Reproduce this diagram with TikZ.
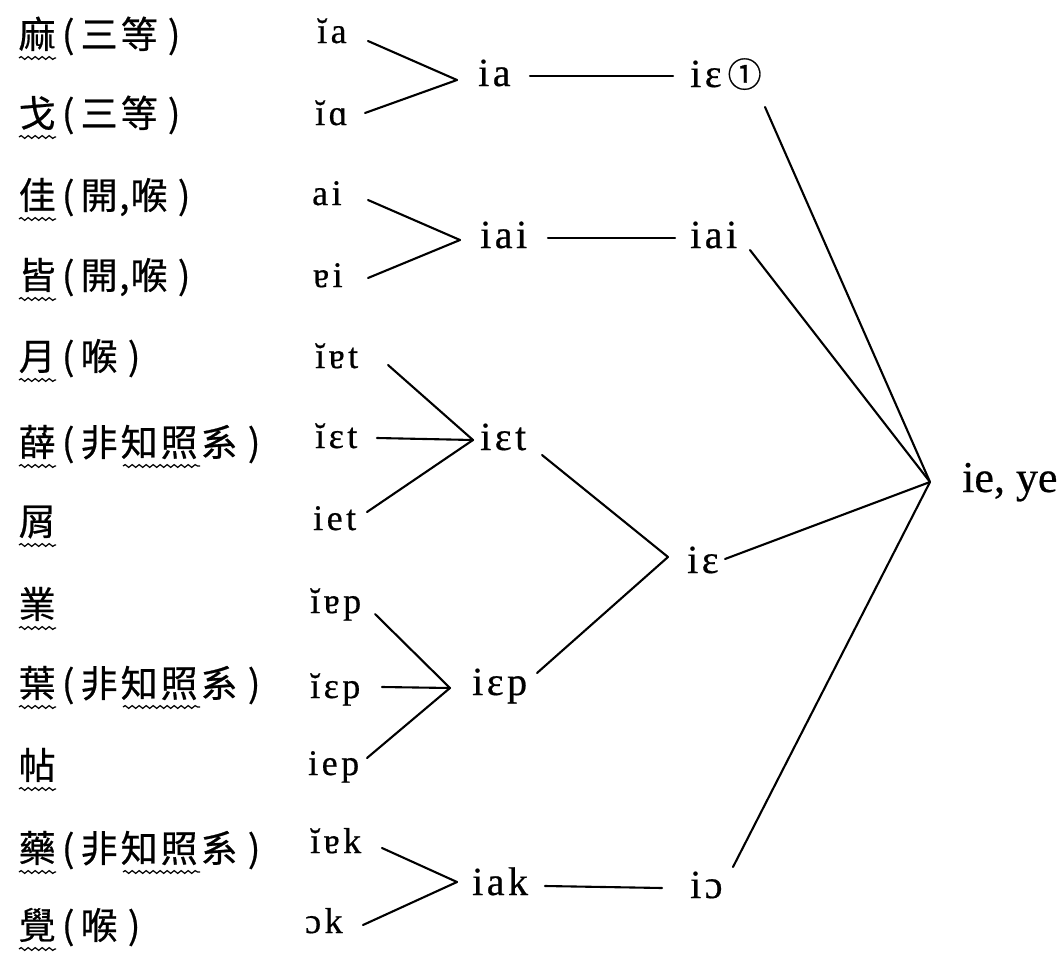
\documentclass[tikz,border=0pt]{standalone}
\usepackage{fontspec}
\setmainfont{Liberation Serif}
\newfontfamily\cjk[FakeBold=0.6]{Noto Sans CJK TC}
\newfontfamily\ipaf[FakeBold=0.5]{Liberation Serif}
\usetikzlibrary{calc,decorations.pathmorphing}
\newcommand\cc[1]{\makebox[40pt][c]{#1}}
\newcommand\lpar{\makebox[22pt][c]{(}}
\newcommand\rpar{\makebox[30pt][c]{)}}
\newcommand\cmm{\makebox[10pt][l]{,}}
\newcommand\ks{\kern3.5pt}
\tikzset{
 zh/.style={anchor=base west, inner sep=0pt, font=\cjk\fontsize{37}{40}\selectfont},
 ipa/.style={anchor=base west, inner sep=0pt, font=\ipaf\fontsize{36}{40}\selectfont},
 mid/.style={anchor=base west, inner sep=0pt, font=\ipaf\fontsize{40}{44}\selectfont},
 fin/.style={anchor=base west, inner sep=0pt, font=\ipaf\fontsize{44}{50}\selectfont},
 link/.style={line width=2.1pt, line cap=round},
 wavy/.style={line width=1.2pt, decorate, decoration={snake, segment length=7pt, amplitude=1.4pt}},
}
\begin{document}
\begin{tikzpicture}[x=1pt,y=-1pt]
\useasboundingbox[fill=white] (0,0) rectangle (1061,953);
% Chinese labels
\node[zh] (z1) at (17,48) {\cc{麻}\lpar\cc{三}\cc{等}\rpar};
\node[zh] (z2) at (17,127) {\cc{戈}\lpar\cc{三}\cc{等}\rpar};
\node[zh] (z3) at (17,209) {\cc{佳}\lpar\cc{開}\cmm\cc{喉}\rpar};
\node[zh] (z4) at (17,289) {\cc{皆}\lpar\cc{開}\cmm\cc{喉}\rpar};
\node[zh] (z5) at (17,370) {\cc{月}\lpar\cc{喉}\rpar};
\node[zh] (z6) at (17,456) {\cc{薛}\lpar\cc{非}\cc{知}\cc{照}\cc{系}\rpar};
\node[zh] (z7) at (17,535) {\cc{屑}};
\node[zh] (z8) at (17,618) {\cc{業}};
\node[zh] (z9) at (17,697) {\cc{葉}\lpar\cc{非}\cc{知}\cc{照}\cc{系}\rpar};
\node[zh] (z10) at (17,779) {\cc{帖}};
\node[zh] (z11) at (17,862) {\cc{藥}\lpar\cc{非}\cc{知}\cc{照}\cc{系}\rpar};
\node[zh] (z12) at (17,939) {\cc{覺}\lpar\cc{喉}\rpar};
% wavy underlines
\foreach \b in {48,127,209,289,370,456,535,618,697,779,862,939}
  \draw[wavy] (19,\b+10) -- (56,\b+10);
\foreach \b in {456,697,862}
  \draw[wavy] (123,\b+10) -- (200,\b+10);
% left IPA
\node[ipa] (i1) at (317,43) {ĭ\ks a};
\node[ipa] (i2) at (315,125) {ĭ\ks ɑ};
\node[ipa] (i3) at (312,205) {a\ks i};
\node[ipa] (i4) at (313,287) {ɐ\ks i};
\node[ipa] (i5) at (315,368) {ĭ\ks ɐ\ks t};
\node[ipa] (i6) at (315,448) {ĭ\ks ɛ\ks t};
\node[ipa] (i7) at (313,530) {i\ks e\ks t};
\node[ipa] (i8) at (310,613) {ĭ\ks ɐ\ks p};
\node[ipa] (i9) at (310,698) {ĭ\ks ɛ\ks p};
\node[ipa] (i10) at (308,775) {i\ks e\ks p};
\node[ipa] (i11) at (310,853) {ĭ\ks ɐ\ks k};
\node[ipa] (i12) at (305,933) {ɔ\ks k};
% middle
\node[mid] (m1) at (478,86) {i\ks a};
\node[mid] (m2) at (480,248) {i\ks a\ks i};
\node[mid] (m3) at (480,450) {i\ks ɛ\ks t};
\node[mid] (m4) at (472,695) {i\ks ɛ\ks p};
\node[mid] (m5) at (472,895) {i\ks a\ks k};
% right
\node[mid] (r1) at (690,87) {i\ks ɛ\kern6pt{\cjk\fontsize{34}{36}\selectfont ①}};
\node[mid] (r2) at (690,248) {i\ks a\ks i};
\node[mid] (r3) at (687,573) {i\ks ɛ};
\node[mid] (r4) at (690,898) {i\ks ɔ};
\node[fin] (f) at (962,492) {ie, ye};
% junctions
\coordinate (ja) at (457,80);
\coordinate (jai) at (460,240);
\coordinate (jet) at (473,440);
\coordinate (jep) at (450,688);
\coordinate (jak) at (457,882);
\coordinate (jie) at (668,557);
\coordinate (jf) at (930,482);
% connectors
\draw[link] ($(i1.base west)+(51,-2)$) -- (ja);
\draw[link] ($(i2.base west)+(50,-12)$) -- (ja);
\draw[link] ($(i3.base west)+(56,-5)$) -- (jai);
\draw[link] ($(i4.base west)+(55,-9)$) -- (jai);
\draw[link] ($(i5.base west)+(73,-3)$) -- (jet);
\draw[link] ($(i6.base west)+(62,-10)$) -- (jet);
\draw[link] ($(i7.base west)+(54,-18)$) -- (jet);
\draw[link] ($(i8.base west)+(65,1)$) -- (jep);
\draw[link] ($(i9.base west)+(72,-11)$) -- (jep);
\draw[link] ($(i10.base west)+(59,-17)$) -- (jep);
\draw[link] ($(i11.base west)+(72,-5)$) -- (jak);
\draw[link] ($(i12.base west)+(58,-8)$) -- (jak);
\draw[link] ($(m1.base west)+(52,-10)$) -- ($(r1.base west)+(-17,-11)$);
\draw[link] ($(m2.base west)+(68,-10)$) -- ($(r2.base west)+(-15,-10)$);
\draw[link] ($(m3.base west)+(62,5)$) -- (jie);
\draw[link] ($(m4.base west)+(65,-22)$) -- (jie);
\draw[link] ($(m5.base west)+(73,-9)$) -- ($(r4.base west)+(-28,-10)$);
\draw[link] ($(r1.base west)+(75,20)$) -- (jf);
\draw[link] ($(r2.base west)+(60,2)$) -- (jf);
\draw[link] ($(r3.base west)+(38,-14)$) -- (jf);
\draw[link] ($(r4.base west)+(43,-31)$) -- (jf);
\end{tikzpicture}
\end{document}
